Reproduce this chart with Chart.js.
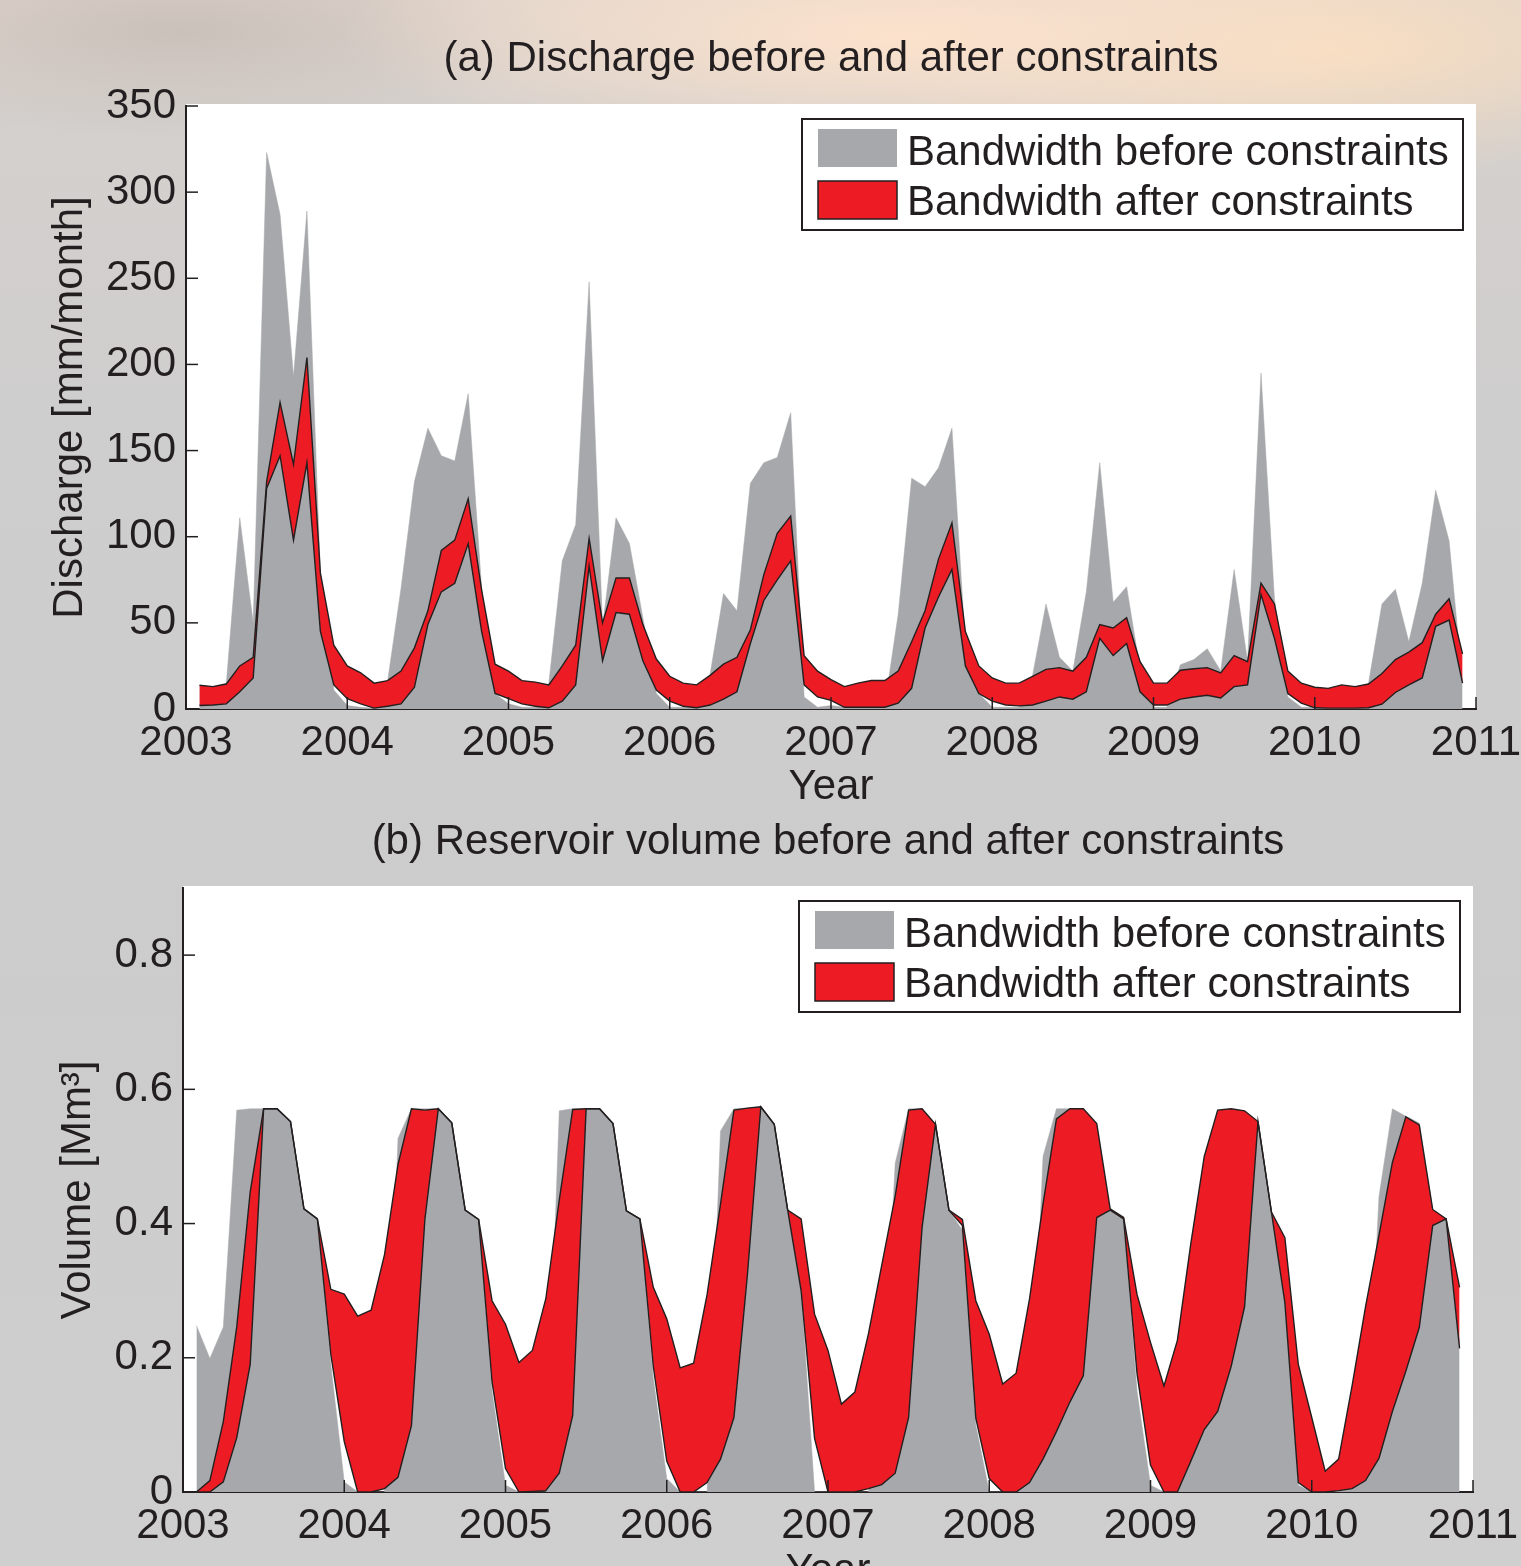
<!DOCTYPE html>
<html lang="en">
<head>
<meta charset="UTF-8">
<title>Discharge and reservoir volume before and after constraints</title>
<style>
    html, body {
        margin: 0;
        padding: 0;
    }
    body {
        width: 1521px;
        height: 1566px;
        overflow: hidden;
        position: relative;
        background:
            radial-gradient(ellipse 560px 120px at 900px 35px, rgba(252, 226, 204, 1), rgba(252, 226, 204, 0)),
            radial-gradient(ellipse 460px 130px at 1330px 50px, rgba(249, 222, 192, 0.95), rgba(249, 222, 192, 0)),
            radial-gradient(ellipse 380px 110px at 180px 30px, rgba(190, 180, 174, 0.6), rgba(190, 180, 174, 0)),
            linear-gradient(to bottom, #e0d5cd 0px, #d4d0cd 120px, #cfcece 400px, #cdcccc 1000px, #cfcfcf 1566px);
    }
    .panel {
        position: absolute;
        left: 0;
    }
    .panel canvas {
        display: block;
    }
    #panelA { top: 0; }
    #panelB { top: 810px; }
</style>
<script src="https://cdn.jsdelivr.net/npm/chart.js"></script>
</head>
<body>

<div class="panel" id="panelA"><canvas id="dischargeChart" width="1540" height="810"></canvas></div>
<div class="panel" id="panelB"><canvas id="volumeChart" width="1540" height="790"></canvas></div>

<script>
    // months after Jan 2003 (Feb 2003 .. Dec 2010)
    const monthOffsets = Array.from({length: 95}, (_, i) => i + 1);
    const yearTicks = [2003, 2004, 2005, 2006, 2007, 2008, 2009, 2010, 2011];

    // (a) discharge [mm/month]
    const dischargeGreyTop = [
        13, 13, 15, 111, 50, 323, 287, 193, 289, 78,
        11, 2, 1, 0.5, 16, 70, 132, 163, 147, 144,
        183, 70, 9, 3, 1, 1, 15, 86, 107, 248,
        48, 111, 96, 53, 9, 1, 1, 1, 20, 67,
        57, 131, 143, 146, 172, 7, 1, 2, 1, 1,
        1, 2, 55, 134, 129, 140, 163, 37, 9, 1,
        1, 1, 19.5, 61, 30, 22, 68, 143, 62, 71,
        23, 1, 1, 25.7, 28.7, 35, 22, 81, 27.5, 195,
        64, 7, 1, 1, 1, 1, 1, 15, 61, 69.5,
        39, 73, 127, 97.5, 15
    ];
    const dischargeRedTop = [
        13.8, 13, 14.5, 25, 30, 132, 178, 142, 204, 79,
        37, 25, 21, 15, 16.5, 22, 35.5, 57, 92, 98,
        122, 69, 26, 22, 16.5, 15.6, 14, 25, 37, 99,
        50, 76, 76, 49, 29, 19, 15, 14, 19.5, 26,
        30, 46, 78, 102, 112, 31, 22, 17, 13, 15,
        16.5, 16.5, 22, 39, 57, 87, 108, 45, 25, 18,
        15, 15, 19, 23, 24, 22, 30, 49, 47, 53,
        27.5, 15, 15, 22.5, 23.4, 24, 21, 31, 27.5, 73,
        61, 22, 15, 12.6, 12, 14, 13, 14.5, 20.6, 28.7,
        33, 38.5, 55, 64, 32
    ];
    const dischargeRedBottom = [
        2, 2.3, 3, 10, 18, 128, 147, 98, 143, 45,
        14, 6, 3, 0.5, 1.6, 3, 12.6, 49, 68, 73,
        96, 45, 9, 6, 3, 1.6, 0.7, 4.6, 14, 83,
        28, 56, 55, 28, 11, 4.6, 1.6, 0.7, 2.3, 5.7,
        10, 38, 63, 75, 86, 14, 7, 5, 1, 1,
        1, 1, 3.4, 12, 47, 65, 81, 25, 9, 4.6,
        2.3, 1.8, 2.3, 4.6, 7, 5.7, 10, 41, 31, 38,
        10, 2.3, 2.3, 5.7, 7, 8, 6.4, 13, 14, 66.5,
        41, 9, 3.4, 0.7, 0.5, 0.5, 0.5, 0.7, 2.8, 9.6,
        14, 18, 48, 51.6, 15
    ];

    // (b) reservoir volume [Mm3]
    const volumeGreyTop = [
        0.248, 0.199, 0.246, 0.569, 0.571, 0.571, 0.571, 0.552, 0.422, 0.407,
        0.19, 0.015, 0, 0, 0, 0.527, 0.571, 0.571, 0.571, 0.55,
        0.42, 0.406, 0.15, 0.01, 0, 0, 0, 0.568, 0.571, 0.571,
        0.571, 0.549, 0.419, 0.407, 0.17, 0.02, 0, 0, 0, 0.538,
        0.571, 0.572, 0.574, 0.548, 0.42, 0.3, 0, 0, 0, 0,
        0, 0.1, 0.49, 0.571, 0.571, 0.548, 0.42, 0.39, 0.1, 0,
        0, 0, 0.03, 0.5, 0.571, 0.571, 0.571, 0.45, 0.42, 0.407,
        0.15, 0.01, 0, 0, 0.05, 0.093, 0.12, 0.187, 0.276, 0.552,
        0.417, 0.28, 0.01, 0, 0, 0.002, 0.005, 0.02, 0.44, 0.571,
        0.56, 0.55, 0.42, 0.407, 0.214
    ];
    const volumeRedTop = [
        0, 0.017, 0.105, 0.246, 0.447, 0.571, 0.571, 0.552, 0.422, 0.407,
        0.302, 0.295, 0.262, 0.271, 0.354, 0.488, 0.571, 0.569, 0.571, 0.55,
        0.42, 0.406, 0.285, 0.25, 0.193, 0.211, 0.288, 0.435, 0.57, 0.571,
        0.571, 0.549, 0.419, 0.407, 0.305, 0.258, 0.185, 0.192, 0.294, 0.429,
        0.569, 0.572, 0.574, 0.548, 0.42, 0.407, 0.265, 0.211, 0.131, 0.149,
        0.235, 0.338, 0.441, 0.569, 0.571, 0.548, 0.42, 0.406, 0.285, 0.235,
        0.161, 0.177, 0.288, 0.429, 0.556, 0.571, 0.571, 0.549, 0.422, 0.409,
        0.294, 0.223, 0.158, 0.226, 0.37, 0.5, 0.569, 0.571, 0.568, 0.552,
        0.417, 0.379, 0.19, 0.111, 0.031, 0.049, 0.158, 0.276, 0.382, 0.491,
        0.559, 0.547, 0.421, 0.407, 0.305
    ];
    const volumeRedBottom = [
        0, 0, 0.015, 0.081, 0.19, 0.571, 0.571, 0.552, 0.422, 0.407,
        0.205, 0.075, 0, 0, 0.005, 0.022, 0.099, 0.406, 0.571, 0.55,
        0.42, 0.406, 0.164, 0.035, 0, 0.001, 0.002, 0.028, 0.114, 0.571,
        0.571, 0.549, 0.419, 0.407, 0.187, 0.046, 0, 0, 0.014, 0.049,
        0.111, 0.323, 0.574, 0.548, 0.42, 0.3, 0.08, 0, 0, 0,
        0.005, 0.011, 0.028, 0.111, 0.394, 0.548, 0.42, 0.397, 0.11, 0.02,
        0, 0, 0.014, 0.049, 0.09, 0.134, 0.173, 0.409, 0.42, 0.407,
        0.176, 0.04, 0, 0, 0.046, 0.093, 0.12, 0.187, 0.276, 0.552,
        0.417, 0.282, 0.014, 0, 0, 0.002, 0.005, 0.017, 0.05, 0.12,
        0.18, 0.245, 0.397, 0.407, 0.214
    ];

    const GREY = '#a7a8ab';
    const RED = '#ed1c24';
    const INK = '#231f20';
    const FONT = 'Arial, "Liberation Sans", Helvetica, sans-serif';

    Chart.defaults.font.family = FONT;
    Chart.defaults.font.size = 42;
    Chart.defaults.color = INK;

    const times = monthOffsets.map(m => yearTicks[0] + m / 12);
    const toPoints = values => values.map((v, i) => ({x: times[i], y: v}));

    // white plot box behind the data
    const plotBackground = {
        id: 'plotBackground',
        beforeDraw(chart) {
            const {ctx, chartArea: a} = chart;
            ctx.save();
            ctx.fillStyle = '#ffffff';
            ctx.fillRect(a.left, a.top - 2, a.right - a.left, a.bottom - a.top + 2);
            ctx.restore();
        }
    };

    // title centred over the axes, like MATLAB does it
    const panelTitle = {
        id: 'panelTitle',
        afterDraw(chart, args, opts) {
            const {ctx, chartArea: a} = chart;
            ctx.save();
            ctx.fillStyle = INK;
            ctx.font = '42px ' + FONT;
            ctx.textAlign = 'center';
            ctx.textBaseline = 'middle';
            ctx.fillText(opts.text, (a.left + a.right) / 2, a.top - opts.offset);
            ctx.restore();
        }
    };

    // MATLAB style tick marks pointing into the axes
    const innerTicks = {
        id: 'innerTicks',
        afterDatasetsDraw(chart) {
            const {ctx, chartArea: a, scales} = chart;
            ctx.save();
            ctx.strokeStyle = INK;
            ctx.lineWidth = 1.5;
            scales.x.ticks.forEach(t => {
                const px = scales.x.getPixelForValue(t.value);
                ctx.beginPath();
                ctx.moveTo(px, a.bottom);
                ctx.lineTo(px, a.bottom - 12);
                ctx.stroke();
            });
            scales.y.ticks.forEach(t => {
                const py = scales.y.getPixelForValue(t.value);
                ctx.beginPath();
                ctx.moveTo(a.left, py);
                ctx.lineTo(a.left + 12, py);
                ctx.stroke();
            });
            ctx.restore();
        }
    };

    // boxed legend in the upper right corner of the axes
    const insetLegend = {
        id: 'insetLegend',
        afterDraw(chart) {
            const {ctx, chartArea: a} = chart;
            const items = chart.data.datasets.filter(d => d.label);
            const w = 661, h = 111;
            const x0 = a.right - 13 - w;
            const y0 = a.top + 13;
            ctx.save();
            ctx.fillStyle = '#ffffff';
            ctx.fillRect(x0, y0, w, h);
            ctx.strokeStyle = INK;
            ctx.lineWidth = 2;
            ctx.strokeRect(x0, y0, w, h);
            items.forEach((d, i) => {
                const py = y0 + 10 + i * 52;
                ctx.fillStyle = d.backgroundColor;
                ctx.fillRect(x0 + 16, py, 79, 38);
                if (d.legendEdge) {
                    ctx.strokeStyle = INK;
                    ctx.lineWidth = 1.5;
                    ctx.strokeRect(x0 + 16, py, 79, 38);
                }
                ctx.fillStyle = INK;
                ctx.font = '42px ' + FONT;
                ctx.textBaseline = 'alphabetic';
                ctx.textAlign = 'left';
                ctx.fillText(d.label, x0 + 105, y0 + 46 + i * 50);
            });
            ctx.restore();
        }
    };

    function bandDatasets(greyTop, redBottom, redTop) {
        return [{
            label: 'Bandwidth before constraints',
            data: toPoints(greyTop),
            backgroundColor: GREY,
            borderColor: GREY,
            borderWidth: 0.5,
            fill: 'origin',
            order: 3
        }, {
            label: 'Bandwidth after constraints',
            data: toPoints(redBottom),
            backgroundColor: RED,
            borderColor: INK,
            borderWidth: 1.4,
            fill: '+1',
            legendEdge: true,
            order: 2
        }, {
            data: toPoints(redTop),
            borderColor: INK,
            borderWidth: 1.4,
            fill: false,
            order: 1
        }];
    }

    function panelOptions(p) {
        return {
            responsive: false,
            animation: false,
            events: [],
            layout: {padding: {left: 0, right: p.padRight, top: p.padTop, bottom: 0}},
            elements: {
                point: {radius: 0},
                line: {tension: 0}
            },
            plugins: {
                legend: {display: false},
                tooltip: {enabled: false},
                title: {display: false},
                panelTitle: {text: p.title, offset: p.titleOffset}
            },
            scales: {
                x: {
                    type: 'linear',
                    min: yearTicks[0],
                    max: yearTicks[yearTicks.length - 1],
                    grid: {display: false, drawTicks: false},
                    border: {display: true, color: INK, width: 2},
                    ticks: {
                        stepSize: 1,
                        padding: 9,
                        maxRotation: 0,
                        autoSkip: false,
                        font: {size: 42},
                        callback: v => String(v)
                    },
                    title: {
                        display: true,
                        text: 'Year',
                        font: {size: 42, lineHeight: 1.2},
                        padding: {top: 0, bottom: p.xTitleBottom}
                    },
                    afterFit: s => { s.height = p.xHeight; }
                },
                y: {
                    min: 0,
                    max: p.yMax,
                    grid: {display: false, drawTicks: false},
                    border: {display: true, color: INK, width: 2},
                    ticks: {
                        stepSize: p.yStep,
                        padding: 10,
                        includeBounds: false,
                        font: {size: 42}
                    },
                    title: {
                        display: true,
                        text: p.yTitle,
                        font: {size: 42, lineHeight: 1.2},
                        padding: {top: p.yTitleTop, bottom: 0}
                    },
                    afterFit: s => { s.width = p.yWidth; }
                }
            }
        };
    }

    new Chart(document.getElementById('dischargeChart'), {
        type: 'line',
        data: {datasets: bandDatasets(dischargeGreyTop, dischargeRedBottom, dischargeRedTop)},
        options: panelOptions({
            title: '(a) Discharge before and after constraints',
            titleOffset: 47,
            yTitle: 'Discharge [mm/month]',
            yMax: 350, yStep: 50,
            padRight: 64, padTop: 106,
            xHeight: 101, xTitleBottom: -3,
            yWidth: 186, yTitleTop: 44.8
        }),
        plugins: [plotBackground, innerTicks, insetLegend, panelTitle]
    });

    new Chart(document.getElementById('volumeChart'), {
        type: 'line',
        data: {datasets: bandDatasets(volumeGreyTop, volumeRedBottom, volumeRedTop)},
        options: panelOptions({
            title: '(b) Reservoir volume before and after constraints',
            titleOffset: 46,
            yTitle: 'Volume [Mm³]',
            yMax: 0.9, yStep: 0.2,
            padRight: 67, padTop: 78,
            xHeight: 108, xTitleBottom: 3,
            yWidth: 183, yTitleTop: 52.8
        }),
        plugins: [plotBackground, innerTicks, insetLegend, panelTitle]
    });
</script>

</body>
</html>
